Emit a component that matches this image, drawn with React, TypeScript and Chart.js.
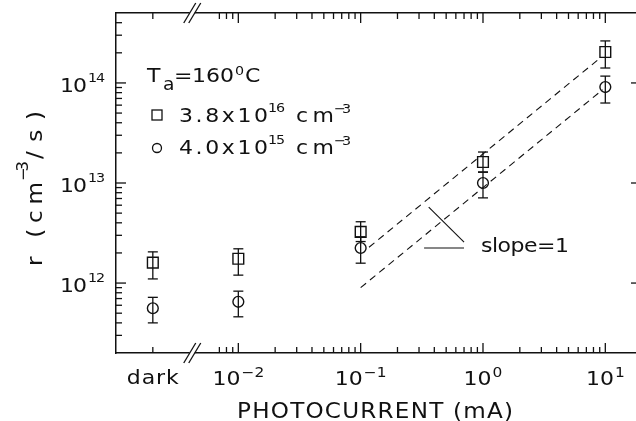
import React, { useEffect, useRef } from 'react';
import { Chart, registerables } from 'chart.js';

Chart.register(...registerables);

// ---------------- data ----------------
// "dark" sits left of the axis break; it is placed at this value on the log axis
const darkPosition = 0.002;
const photocurrent = [darkPosition, 0.01, 0.1, 1, 10];

// 3.8x10^16 cm^-3 (squares)
const rateHigh = [1.6e12, 1.75e12, 3.25e12, 1.62e13, 2.04e14];
const rateHighLow = [1.1e12, 1.2e12, 2.6e12, 1.29e13, 1.41e14];
const rateHighHigh = [2.05e12, 2.2e12, 4.1e12, 2.04e13, 2.63e14];

// 4.0x10^15 cm^-3 (circles)
const rateLow = [5.6e11, 6.5e11, 2.24e12, 1.0e13, 9.1e13];
const rateLowLow = [4.0e11, 4.6e11, 1.58e12, 7.1e12, 6.3e13];
const rateLowHigh = [7.2e11, 8.3e11, 2.9e12, 1.28e13, 1.17e14];

// dashed slope-1 guide lines
const upperGuideX = [0.117, 8.9];
const upperGuideY = [2.28e12, 1.74e14];
const lowerGuideX = [0.1, 9.5];
const lowerGuideY = [9.0e11, 8.55e13];

// slope marker
const slopeDiagX = [0.36, 0.7];
const slopeDiagY = [5.75e12, 2.57e12];
const slopeBaseX = [0.33, 0.7];
const slopeBaseY = [2.24e12, 2.24e12];

// axis ranges and ticks
const xMin = 0.001;
const xMax = 18.5;
const yMin = 2e11;
const yMax = 5e14;
const axisBreakAt = 0.0042;

const xTickValues = [darkPosition, 0.01, 0.1, 1, 10];
const xTickBase = ['dark', '10', '10', '10', '10'];
const xTickExp = ['', '−2', '−1', '0', '1'];

const yTickValues = [1e12, 1e13, 1e14];
const yTickBase = ['10', '10', '10'];
const yTickExp = ['12', '13', '14'];

const mantissas = [2, 3, 4, 5, 6, 7, 8, 9];
const xMinorTicks: number[] = [0.007, 0.008, 0.009];
[0.01, 0.1, 1].forEach((d) => mantissas.forEach((m) => xMinorTicks.push(m * d)));
const yMinorTicks: number[] = [];
[1e11, 1e12, 1e13, 1e14].forEach((d) =>
  mantissas.forEach((m) => {
    const v = m * d;
    if (v > yMin * 1.01 && v < yMax * 0.99) yMinorTicks.push(v);
  })
);

const xTitle = 'PHOTOCURRENT (mA)';
const slopeLabel = 'slope=1';
const legendHigh = ['3.8x10', '16', 'cm', '−3'];
const legendLow = ['4.0x10', '15', 'cm', '−3'];

// ---------------- drawing helpers ----------------
const INK = '#111';
const FONT = '"DejaVu Sans", sans-serif';
const STRETCH = 1.1;

function put(
  ctx: CanvasRenderingContext2D,
  s: string,
  x: number,
  y: number,
  size: number,
  width?: number,
  align: 'left' | 'right' | 'center' = 'left',
  spacing = 0
) {
  ctx.font = `${size}px ${FONT}`;
  (ctx as any).letterSpacing = '0px';
  const w0 = ctx.measureText(s).width;
  const n = Array.from(s).length;
  let ls = spacing;
  if (width != null && n > 1) ls = (width / STRETCH - w0) / (n - 1);
  const w = (w0 + ls * Math.max(0, n - 1)) * STRETCH;
  let sx = x;
  if (align === 'right') sx = x - w;
  else if (align === 'center') sx = x - w / 2;
  ctx.save();
  ctx.translate(sx, y);
  ctx.scale(STRETCH, 1);
  (ctx as any).letterSpacing = `${ls}px`;
  ctx.textAlign = 'left';
  ctx.textBaseline = 'alphabetic';
  ctx.fillText(s, 0, 0);
  (ctx as any).letterSpacing = '0px';
  ctx.restore();
  return w;
}

function measure(ctx: CanvasRenderingContext2D, s: string, size: number, spacing = 0) {
  ctx.font = `${size}px ${FONT}`;
  (ctx as any).letterSpacing = '0px';
  const n = Array.from(s).length;
  return (ctx.measureText(s).width + spacing * Math.max(0, n - 1)) * STRETCH;
}

const decor = {
  id: 'decor',
  beforeDraw(chart: any) {
    const { ctx, width, height } = chart;
    ctx.save();
    ctx.fillStyle = '#fff';
    ctx.fillRect(0, 0, width, height);
    ctx.restore();
  },
  afterDraw(chart: any) {
    const ctx: CanvasRenderingContext2D = chart.ctx;
    const a = chart.chartArea;
    const xs = chart.scales.x;
    const ys = chart.scales.y;
    const px = (v: number) => xs.getPixelForValue(v);
    const py = (v: number) => ys.getPixelForValue(v);
    ctx.save();
    ctx.strokeStyle = INK;
    ctx.fillStyle = INK;
    ctx.lineWidth = 1.3;
    const seg = (x1: number, y1: number, x2: number, y2: number) => {
      ctx.beginPath();
      ctx.moveTo(x1, y1);
      ctx.lineTo(x2, y2);
      ctx.stroke();
    };

    // error bars
    const bars = (lo: number[], hi: number[]) =>
      photocurrent.forEach((x, i) => {
        const X = px(x);
        const y1 = py(lo[i]);
        const y2 = py(hi[i]);
        seg(X, y1, X, y2);
        seg(X - 5, y1, X + 5, y1);
        seg(X - 5, y2, X + 5, y2);
      });
    bars(rateHighLow, rateHighHigh);
    bars(rateLowLow, rateLowHigh);

    // x ticks (bottom and top, inward)
    xMinorTicks.forEach((v) => {
      const X = px(v);
      seg(X, a.bottom, X, a.bottom - 6);
      seg(X, a.top, X, a.top + 6);
    });
    xTickValues.forEach((v, i) => {
      const X = px(v);
      const L = xTickExp[i] === '' ? 6 : 10;
      seg(X, a.bottom, X, a.bottom - L);
      seg(X, a.top, X, a.top + L);
    });
    // y ticks
    yMinorTicks.forEach((v) => {
      const Y = py(v);
      seg(a.left, Y, a.left + 6, Y);
    });
    yTickValues.forEach((v) => {
      const Y = py(v);
      seg(a.left, Y, a.left + 10, Y);
      seg(a.right, Y, a.right - 7, Y);
    });

    // axis break marks
    const bx = px(axisBreakAt);
    [a.bottom, a.top].forEach((yy: number) => {
      ctx.fillStyle = '#fff';
      ctx.fillRect(bx - 2.5, yy - 2, 5, 4);
      ctx.fillStyle = INK;
      [-2.5, 2.5].forEach((o) => seg(bx + o - 6, yy + 10, bx + o + 6, yy - 10));
    });

    // x tick labels
    xTickValues.forEach((v, i) => {
      const X = px(v);
      if (xTickExp[i] === '') {
        put(ctx, xTickBase[i], X, a.bottom + 31, 20, 52, 'center');
      } else {
        const wb = measure(ctx, xTickBase[i], 20);
        const we = measure(ctx, xTickExp[i], 14);
        const start = X - (wb + 1 + we) / 2;
        put(ctx, xTickBase[i], start, a.bottom + 32, 20);
        put(ctx, xTickExp[i], start + wb + 1, a.bottom + 24, 14);
      }
    });

    // y tick labels
    yTickValues.forEach((v, i) => {
      const Y = py(v);
      const we = put(ctx, yTickExp[i], a.left - 11, Y - 1, 13, 17, 'right');
      put(ctx, yTickBase[i], a.left - 11 - we - 1, Y + 9, 20, 27, 'right');
    });

    // axis titles
    put(ctx, xTitle, 237, 418, 21, 276);
    ctx.save();
    ctx.translate(42, 266);
    ctx.rotate(-Math.PI / 2);
    put(ctx, 'r (cm', 0, 0, 21, 84);
    put(ctx, '−3', 85, -14, 15, 20);
    put(ctx, '/s)', 107, 0, 21, 48);
    ctx.restore();

    // legend / annotation
    put(ctx, 'T', 147, 82, 20);
    put(ctx, 'a', 163, 90, 17);
    put(ctx, '=', 174, 82, 20);
    const w160 = put(ctx, '160', 192, 82, 20);
    put(ctx, '0', 192 + w160 + 1, 75, 13);
    put(ctx, 'C', 192 + w160 + 11, 82, 20);

    ctx.lineWidth = 1.3;
    ctx.strokeRect(152, 110, 10, 10);
    put(ctx, legendHigh[0], 179, 122, 20, 89);
    put(ctx, legendHigh[1], 268, 112, 13, 17);
    put(ctx, legendHigh[2], 296, 122, 20, 38);
    put(ctx, legendHigh[3], 334, 113, 13, 17);

    ctx.beginPath();
    ctx.arc(157, 148, 4.5, 0, Math.PI * 2);
    ctx.stroke();
    put(ctx, legendLow[0], 179, 154, 20, 89);
    put(ctx, legendLow[1], 268, 144, 13, 17);
    put(ctx, legendLow[2], 296, 154, 20, 38);
    put(ctx, legendLow[3], 334, 145, 13, 17);

    put(ctx, slopeLabel, 481, 252, 20, 88);
    ctx.restore();
  },
};

const pts = (xs: number[], ys: number[]) => xs.map((x, i) => ({ x, y: ys[i] }));

const logAxis = (position: string, min: number, max: number, size: number, horizontal: boolean) => ({
  type: 'logarithmic' as const,
  position,
  min,
  max,
  display: true,
  grid: { display: false, drawTicks: false, drawOnChartArea: false },
  ticks: { display: false },
  border: { display: true, color: INK, width: 1.5 },
  afterFit: (s: any) => {
    if (horizontal) s.height = size;
    else s.width = size;
  },
});

export default function App() {
  const ref = useRef<HTMLCanvasElement>(null);
  useEffect(() => {
    const chart = new Chart(ref.current as HTMLCanvasElement, {
      type: 'scatter',
      data: {
        datasets: [
          {
            label: '3.8x10^16 cm^-3',
            data: pts(photocurrent, rateHigh),
            pointStyle: 'rect',
            pointRadius: 7.6,
            borderColor: INK,
            backgroundColor: 'rgba(0,0,0,0)',
            borderWidth: 1.4,
          },
          {
            label: '4.0x10^15 cm^-3',
            data: pts(photocurrent, rateLow),
            pointStyle: 'circle',
            pointRadius: 5.4,
            borderColor: INK,
            backgroundColor: 'rgba(0,0,0,0)',
            borderWidth: 1.4,
          },
          {
            label: 'upper guide',
            data: pts(upperGuideX, upperGuideY),
            showLine: true,
            pointRadius: 0,
            borderColor: INK,
            borderWidth: 1.1,
            borderDash: [7, 5],
          },
          {
            label: 'lower guide',
            data: pts(lowerGuideX, lowerGuideY),
            showLine: true,
            pointRadius: 0,
            borderColor: INK,
            borderWidth: 1.1,
            borderDash: [7, 5],
          },
          {
            label: 'slope diag',
            data: pts(slopeDiagX, slopeDiagY),
            showLine: true,
            pointRadius: 0,
            borderColor: INK,
            borderWidth: 1.1,
          },
          {
            label: 'slope base',
            data: pts(slopeBaseX, slopeBaseY),
            showLine: true,
            pointRadius: 0,
            borderColor: INK,
            borderWidth: 1.1,
          },
        ],
      },
      options: {
        responsive: false,
        maintainAspectRatio: false,
        animation: false,
        devicePixelRatio: 1,
        layout: { padding: 0 },
        plugins: { legend: { display: false }, tooltip: { enabled: false } },
        scales: {
          x: logAxis('bottom', xMin, xMax, 68, true),
          x2: logAxis('top', xMin, xMax, 13, true),
          y: logAxis('left', yMin, yMax, 116, false),
          y2: logAxis('right', yMin, yMax, 22, false),
        } as any,
      },
      plugins: [decor],
    });
    return () => chart.destroy();
  }, []);

  return (
    <div
      style={{
        position: 'fixed',
        left: 0,
        top: 0,
        width: 636,
        height: 421,
        overflow: 'hidden',
        background: '#fff',
      }}
    >
      <canvas ref={ref} width={660} height={421} style={{ display: 'block', width: 660, height: 421 }} />
    </div>
  );
}
